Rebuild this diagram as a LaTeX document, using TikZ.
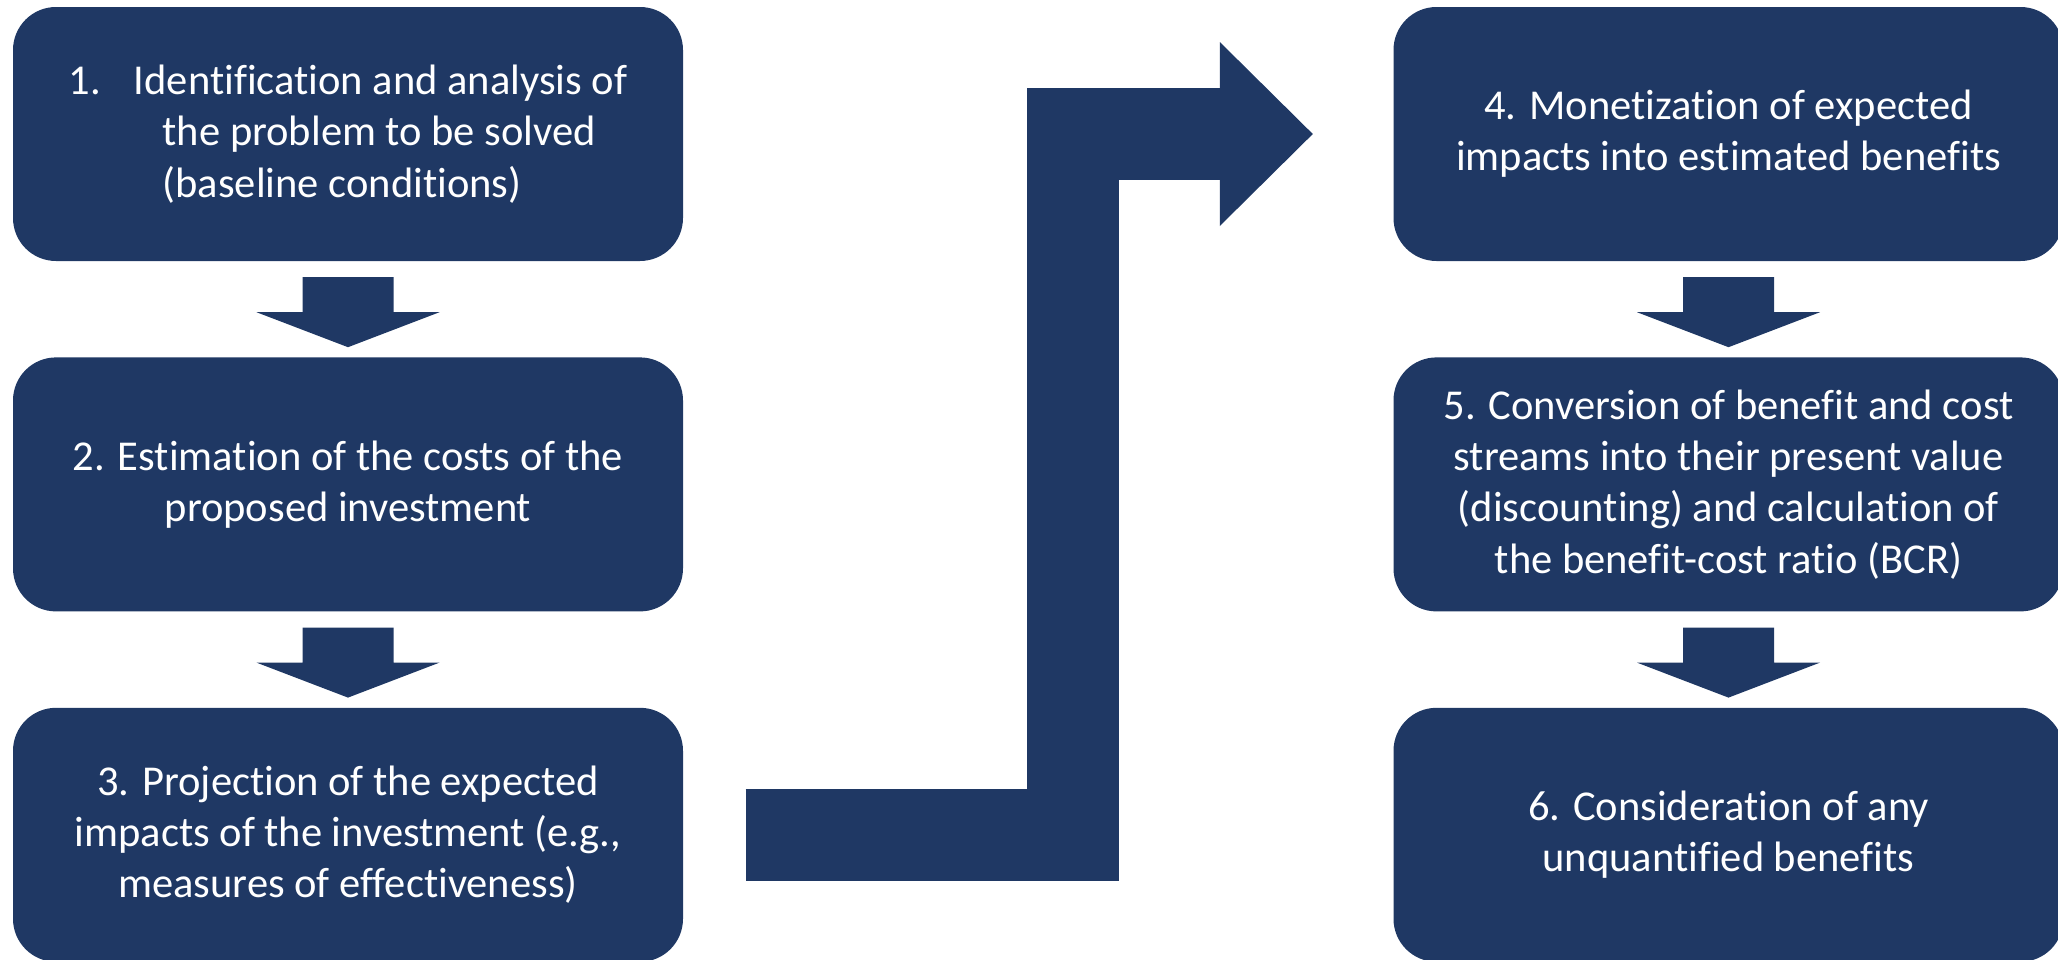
\documentclass[tikz,border=0pt]{standalone}
\usepackage{fontspec}
\setmainfont[Ligatures=NoCommon]{Carlito}
\usetikzlibrary{positioning,calc}
\definecolor{navy}{RGB}{31,56,100}
\tikzset{stepbox/.style={fill=navy,text=white,rounded corners=4.3mm,minimum width=67mm,minimum height=25.4mm,inner sep=0pt,align=center,font=\fontsize{12.1}{14.6}\selectfont}}
\tikzset{flow/.style={fill=navy}}
\tikzset{bigflow/.style={draw=navy,line width=9.2mm}}

\begin{document}
\begin{tikzpicture}[x=0.1mm,y=-0.1mm]
    \useasboundingbox (0,0) rectangle (2058,960);
    % left column
    \node[stepbox,align=left] (s1) at (348,134) {1.\hspace{3.3mm}Identification and analysis of\\\hspace{9.4mm}the problem to be solved\\\hspace{9.4mm}(baseline conditions)};
    \node[stepbox,below=9.5mm of s1] (s2) {2. Estimation of the costs of the\\proposed investment};
    \node[stepbox,below=9.5mm of s2] (s3) {3. Projection of the expected\\impacts of the investment (e.g.,\\measures of effectiveness)};
    % right column
    \node[stepbox] (s4) at (1728.5,134) {4. Monetization of expected\\impacts into estimated benefits};
    \node[stepbox,below=9.5mm of s4] (s5) {5. Conversion of benefit and cost\\streams into their present value\\(discounting) and calculation of\\the benefit-cost ratio (BCR)};
    \node[stepbox,below=9.5mm of s5] (s6) {6. Consideration of any\\unquantified benefits};
    \foreach \a/\b in {s1/s2,s2/s3,s4/s5,s5/s6}
    {
        \coordinate (m) at ($(\a.south)!0.5!(\b.north)$);
        \fill[flow] ($(m)+(-45.5,-32)$) -- ($(m)+(45.5,-32)$) -- ($(m)+(45.5,3)$) -- ($(m)+(91.5,3)$)
            -- ($(m)+(0,38)$) -- ($(m)+(-91.5,3)$) -- ($(m)+(-45.5,3)$) -- cycle;
    }
    % from step 3 up to step 4
    \coordinate (tail) at ($(s3.east)+(62,0)$);
    \coordinate (tip) at ($(s4.west)+(-80,0)$);
    \coordinate (base) at ($(tip)+(-93,0)$);
    \draw[bigflow] (tail) -| ($(base)+(-147,0)$) -- (base);
    \fill[flow] ($(base)+(0,-92)$) -- (tip) -- ($(base)+(0,92)$) -- cycle;
\end{tikzpicture}
\end{document}
